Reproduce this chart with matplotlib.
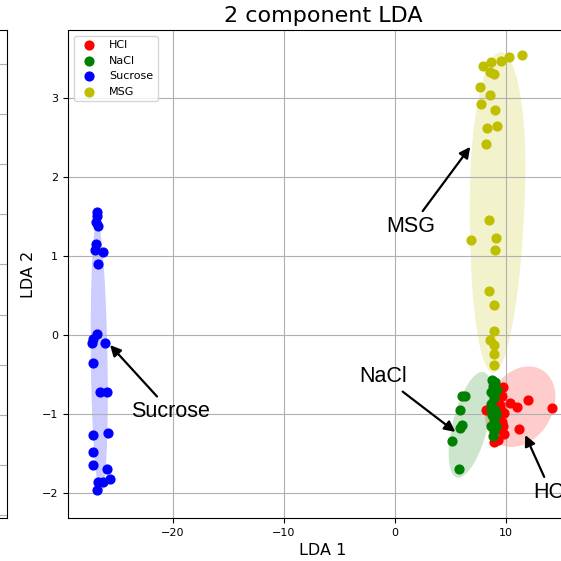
import numpy as np
import matplotlib
matplotlib.use("Agg")
import matplotlib.pyplot as plt

# LDA scores, one pair of lists per class
hcl_x = [9.65, 9.50, 9.79, 9.65, 9.59, 9.25, 8.95, 8.23, 10.40, 11.00, 11.96,
         14.16, 11.21, 9.70, 9.40, 9.80, 9.55, 9.70]
hcl_y = [-0.78, -0.89, -0.99, -1.10, -1.20, -1.33, -1.36, -0.95, -0.86, -0.91,
         -0.83, -0.93, -1.19, -0.66, -1.05, -1.25, -0.95, -1.15]

nacl_x = [6.04, 6.34, 5.83, 6.04, 5.83, 5.14, 5.74,
          8.75, 8.85, 8.70, 8.95, 8.70, 9.05, 8.75, 8.95, 8.70, 8.90, 9.20,
          9.15, 8.80, 9.00, 8.65, 9.10]
nacl_y = [-0.78, -0.78, -0.95, -1.14, -1.18, -1.34, -1.70,
          -0.57, -0.65, -0.72, -0.80, -0.88, -0.95, -1.02, -1.08, -1.15, -1.22,
          -0.70, -1.00, -1.28, -0.60, -0.95, -1.15]

sucrose_x = [-26.87, -26.82, -26.96, -26.73, -26.96, -27.02, -26.33, -26.73,
             -26.82, -27.18, -27.32, -26.12, -27.18, -26.57, -25.92, -25.83,
             -27.18, -27.18, -27.18, -25.92, -25.67, -26.73, -26.82, -26.28]
sucrose_y = [1.55, 1.50, 1.43, 1.38, 1.15, 1.08, 1.05, 0.90,
             0.01, -0.05, -0.10, -0.11, -0.36, -0.73, -0.72, -1.24,
             -1.27, -1.48, -1.65, -1.70, -1.83, -1.87, -1.96, -1.86]

msg_x = [7.94, 8.66, 8.59, 8.95, 9.56, 10.24, 11.45, 7.63, 8.59, 7.78, 9.04,
         8.30, 9.20, 8.21, 8.44, 6.88, 9.13, 9.04, 8.44, 8.89, 8.95, 8.59,
         8.95, 8.95, 8.89]
msg_y = [3.41, 3.46, 3.33, 3.30, 3.47, 3.52, 3.54, 3.14, 3.04, 2.92, 2.85,
         2.62, 2.65, 2.42, 1.46, 1.20, 1.22, 1.08, 0.56, 0.38, 0.05, -0.06,
         -0.13, -0.24, -0.38]

classes = ["HCl", "NaCl", "Sucrose", "MSG"]
xs = [hcl_x, nacl_x, sucrose_x, msg_x]
ys = [hcl_y, nacl_y, sucrose_y, msg_y]
colors = ["r", "g", "b", "y"]

# shaded region per class: centre, half width, reach above / below, lean
region_cx = [11.30, 6.79, -26.63, 9.27]
region_cy = [-0.91, -1.14, -0.44, 1.96]
region_w = [3.07, 1.62, 0.75, 2.48]
region_up = [0.51, 0.67, 1.87, 1.62]
region_down = [0.51, 0.67, 1.58, 2.44]
region_shear = [1.5, 1.6, -0.1, 0.17]

# arrow labels: text centre and the point the arrow goes to
notes = ["Sucrose", "MSG", "NaCl", "HCl"]
note_xy = [(-25.66, -0.13), (6.79, 2.38), (5.45, -1.23), (11.75, -1.27)]
note_text = [(-20.17, -0.975), (1.47, 1.37), (-1.06, -0.53), (14.1, -2.0)]


def region(cx, cy, w, up, down, shear, n=240):
    t = np.linspace(0, 2 * np.pi, n)
    s = np.sin(t)
    dy = np.where(s > 0, up, down) * s
    return cx + w * np.cos(t) + shear * dy, cy + dy


fig = plt.figure(figsize=(5.61, 5.61), dpi=100)

# edge of the neighbouring subplot, cut off on the left
side = fig.add_axes([6.5 / 561 - 0.5, 43 / 561, 0.5, 488 / 561])
side.set_xlim(0, 1)
side.set_ylim(-0.05, 9.67)
side.set_yticks(range(10))
side.set_xticks([])
side.tick_params(left=False, labelleft=False)
side.grid(True, axis="y")

ax = fig.add_axes([68 / 561, 43 / 561, 510 / 561, 488 / 561])

for i in range(len(classes)):
    rx, ry = region(region_cx[i], region_cy[i], region_w[i], region_up[i],
                    region_down[i], region_shear[i])
    ax.fill(rx, ry, color=colors[i], alpha=0.2, lw=0, zorder=1)

for i in range(len(classes)):
    ax.scatter(xs[i], ys[i], c=colors[i], s=40, label=classes[i], zorder=2)

for i, txt in enumerate(notes):
    ax.annotate(txt, xy=note_xy[i], xytext=note_text[i], ha="center",
                va="center", fontsize=15.5, family="Liberation Sans",
                arrowprops=dict(arrowstyle="-|>", color="black", lw=1.6,
                                mutation_scale=16, shrinkB=0),
                zorder=3)

ax.set_xlim(-29.45, 16.5)
ax.set_ylim(-2.32, 3.86)
ax.grid(True)
ax.tick_params(labelsize=8)
ax.set_xlabel("LDA 1", fontsize=11.5)
ax.set_ylabel("LDA 2", fontsize=11.5)
ax.set_title("2 component LDA", fontsize=16)
ax.legend(loc="upper left", fontsize=8)

fig.savefig("out.png", dpi=100)
